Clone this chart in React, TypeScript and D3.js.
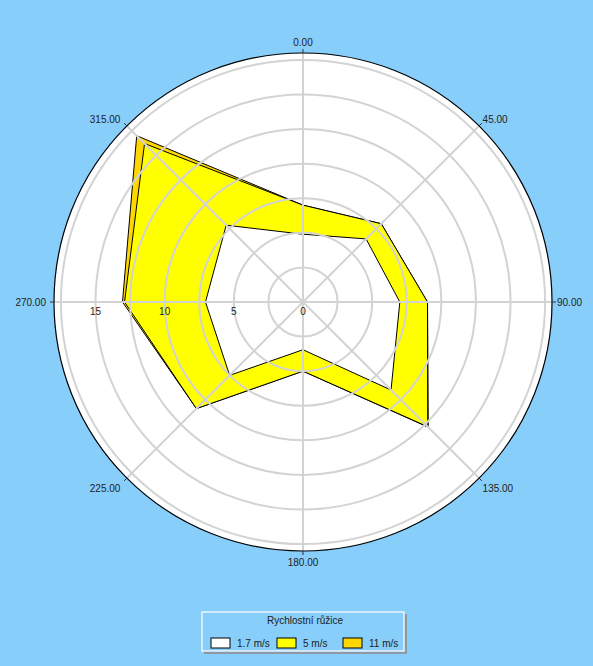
import React from "react";
import * as d3 from "d3";

// wind directions (degrees) and radial values read from the rose
const directions = [0, 45, 90, 135, 180, 225, 270, 315];
const seriesNames = ["1.7 m/s", "5 m/s", "11 m/s"];
const calm = [4.9, 6.45, 7.0, 9.0, 3.45, 7.5, 7.05, 7.85];
const medium = [7.0, 8.0, 9.0, 12.75, 5.0, 10.9, 12.9, 16.2];
const strong = [7.0, 8.0, 9.0, 12.8, 5.0, 10.9, 13.05, 17.0];
const seriesColors = ["#ffffff", "#ffff00", "#ffd700"];
const radialTicks = [0, 5, 10, 15];
const gridRings = [2.5, 5, 7.5, 10, 12.5, 15, 17.5];
const legendTitle = "Rychlostní růžice";

const W = 593;
const H = 666;
const cx = 303;
const cy = 302;
const R = 249;
const FONT = "'Liberation Sans', Arial, sans-serif";

const App: React.FC = () => {
  const r = d3.scaleLinear().domain([0, 18]).range([0, R]);
  const angle = d3
    .scaleLinear()
    .domain([0, 360])
    .range([0, 2 * Math.PI]);

  const line = d3
    .lineRadial<number>()
    .angle((_, i) => angle(directions[i]))
    .radius((d) => r(d))
    .curve(d3.curveLinearClosed);

  const series = [calm, medium, strong];
  // draw the widest polygon first so narrower ones sit on top
  const drawOrder = [2, 1, 0];

  const polar = (deg: number, rad: number) => {
    const a = angle(deg);
    return [rad * Math.sin(a), -rad * Math.cos(a)];
  };

  const legendX = 202;
  const legendY = 612;
  const legendItems = [
    { sx: 211, tx: 237 },
    { sx: 277, tx: 303 },
    { sx: 343, tx: 369 },
  ];

  return (
    <svg
      width={W}
      height={H}
      style={{ position: "absolute", left: 0, top: 0, display: "block" }}
    >
      <rect width={W} height={H} fill="#87cefa" />
      <g transform={`translate(${cx},${cy})`}>
        <circle r={R} fill="#ffffff" />
        {drawOrder.map((si) => (
          <path
            key={si}
            d={line(series[si]) || ""}
            fill={seriesColors[si]}
            stroke="#000"
            strokeWidth={1}
            strokeLinejoin="miter"
          />
        ))}
        {gridRings.map((g) => (
          <circle
            key={g}
            r={r(g)}
            fill="none"
            stroke="#d3d3d3"
            strokeWidth={2}
          />
        ))}
        {directions.map((d) => {
          const [x, y] = polar(d, R);
          return (
            <line
              key={d}
              x1={0}
              y1={0}
              x2={x}
              y2={y}
              stroke="#d3d3d3"
              strokeWidth={2}
            />
          );
        })}
        <circle r={R} fill="none" stroke="#000" strokeWidth={1.2} />
        {directions.map((d) => {
          const [x1, y1] = polar(d, R);
          const [x2, y2] = polar(d, R + 4);
          return (
            <line
              key={"t" + d}
              x1={x1}
              y1={y1}
              x2={x2}
              y2={y2}
              stroke="#333"
              strokeWidth={1}
            />
          );
        })}
        {directions.map((d) => {
          const [x, y] = polar(d, R + 5);
          const sx = Math.round(x);
          const sy = Math.round(y);
          const anchor = sx > 1 ? "start" : sx < -1 ? "end" : "middle";
          const dx = sx > 1 ? 0 : sx < -1 ? -3 : 0;
          const dy = sy < -1 ? (sx === 0 ? -6 : -3) : sy > 1 ? (sx === 0 ? 6 : 7) : 0;
          return (
            <text
              key={"l" + d}
              x={x + dx}
              y={y + dy}
              textAnchor={anchor}
              dominantBaseline="central"
              fontFamily={FONT}
              fontSize={10}
              fill="#222"
            >
              {d.toFixed(2)}
            </text>
          );
        })}
        {radialTicks.map((t) => (
          <text
            key={"r" + t}
            x={-r(t)}
            y={9}
            textAnchor="middle"
            dominantBaseline="central"
            fontFamily={FONT}
            fontSize={10}
            fill="#222"
          >
            {t}
          </text>
        ))}
      </g>
      <g>
        <rect
          x={legendX + 2}
          y={legendY + 2}
          width={203}
          height={40}
          fill="#8a9aa8"
        />
        <rect
          x={legendX}
          y={legendY}
          width={202}
          height={39}
          fill="#87cefa"
          stroke="#eaf6ff"
          strokeWidth={1.5}
        />
        <text
          x={305}
          y={620}
          textAnchor="middle"
          dominantBaseline="central"
          fontFamily={FONT}
          fontSize={10}
          fill="#222"
        >
          {legendTitle}
        </text>
        {legendItems.map((it, i) => (
          <g key={i}>
            <rect
              x={it.sx}
              y={638}
              width={19}
              height={10}
              fill={seriesColors[i]}
              stroke="#000"
              strokeWidth={1}
            />
            <text
              x={it.tx}
              y={643.5}
              dominantBaseline="central"
              fontFamily={FONT}
              fontSize={10}
              fill="#222"
            >
              {seriesNames[i]}
            </text>
          </g>
        ))}
      </g>
    </svg>
  );
};

export default App;
